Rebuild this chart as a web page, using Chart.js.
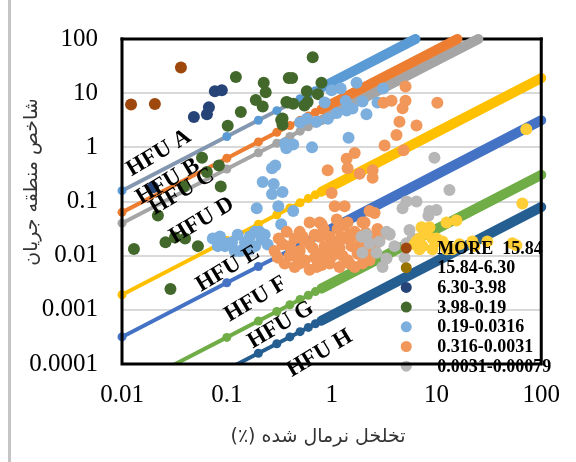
<!DOCTYPE html>
<html>
<head>
<meta charset="utf-8">
<script src="https://cdn.jsdelivr.net/npm/chart.js@4.4.1/dist/chart.umd.min.js"></script>
<style>
  html, body { margin:0; padding:0; background:#fff; }
  #wrap { position:relative; width:576px; height:462px; }
  #wrap .rule { position:absolute; left:8px; top:0; width:3px; height:462px; background:#c4c4c4; }
</style>
</head>
<body>
<div id="wrap">
  <div class="rule"></div>
  <canvas id="chart"></canvas>
</div>
<script>
// ── ejes ────────────────────────────────────────────────
const xTicks = [0.01, 0.1, 1, 10, 100];
const xTickText = ['0.01', '0.1', '1', '10', '100'];
const yTicks = [0.0001, 0.001, 0.01, 0.1, 1, 10, 100];
const yTickText = ['0.0001', '0.001', '0.01', '0.1', '1', '10', '100'];
const xTitle = 'تخلخل نرمال شده (٪)';
const yTitle = 'شاخص منطقه جریان';

// ── líneas límite de las unidades de flujo (y = fzi · x) ─
const boundFzi   = [15.84, 6.30, 3.98, 0.19, 0.0316, 0.0031, 0.00079];
const boundColor = ['#5B9BD5', '#ED7D31', '#A5A5A5', '#FFC000', '#4472C4', '#70AD47', '#255E91'];
const boundThin  = ['#8497B0', '#ED7D31', '#A5A5A5', '#FFC000', '#4472C4', '#70AD47', '#255E91'];
const boundX     = [0.01, 0.1, 0.2, 0.3, 0.4, 0.5, 0.6, 0.7, 0.8, 0.9, 1, 10, 100];

const hfuNames   = ['HFU A', 'HFU B', 'HFU C', 'HFU D', 'HFU E', 'HFU F', 'HFU G', 'HFU H'];
const hfuLabelAt = [[0.0225, 0.785], [0.0274, 0.233], [0.0373, 0.15], [0.0578, 0.0446],
                    [0.102, 0.00568], [0.189, 0.00156], [0.327, 0.000524], [0.769, 0.000156]];

// ── muestras por rango de FZI ───────────────────────────
const seriesMore = [[0.0122, 6.2], [0.0206, 6.3], [0.0365, 29.8]];
const series1584 = [];
const series630  = [[0.0485, 3.64], [0.0646, 4.1], [0.0675, 5.5], [0.0769, 10.8], [0.0896, 11.3], [0.0197, 0.183]];
const series398  = [[0.122, 19.9], [0.225, 15.6], [0.235, 10.4], [0.189, 7.5], [0.22, 5.7], [0.136, 4.5],
  [0.102, 2.5], [0.34, 3.4], [0.37, 6.9], [0.39, 19.1], [0.66, 46], [0.42, 19], [0.80, 15.6], [0.58, 10.8],
  [0.74, 9.6], [0.38, 6.7], [0.43, 6.4], [0.55, 5.9], [0.59, 6.9], [0.33, 3.2], [0.34, 2.6], [0.058, 0.64],
  [0.084, 0.46], [0.0645, 0.35], [0.0875, 0.19], [0.039, 0.19], [0.022, 0.055], [0.013, 0.0133],
  [0.026, 0.0176], [0.032, 0.0216], [0.040, 0.0207], [0.053, 0.015], [0.029, 0.00243]];
const series019  = [[1.73, 15.6], [1.22, 12.2], [1.0, 11.3], [3.1, 12.2], [0.86, 6.7], [1.36, 7.2], [1.97, 7.0],
  [2.15, 4.1], [2.74, 6.7], [1.45, 1.5], [0.65, 1.0], [0.36, 1.17], [0.43, 1.13], [0.50, 2.86], [0.58, 3.36],
  [0.72, 2.98], [0.92, 3.36], [1.12, 4.3], [1.39, 4.8], [1.58, 5.2], [0.37, 0.96], [0.29, 0.46], [0.28, 0.21],
  [0.34, 0.15], [0.27, 0.138], [0.31, 0.082], [0.193, 0.075], [0.43, 0.067], [0.33, 0.038], [0.22, 0.23],
  [0.27, 0.41], [0.206, 0.0275], [0.086, 0.0225], [0.0735, 0.0207], [0.096, 0.015], [0.112, 0.0176],
  [0.127, 0.0243], [0.149, 0.0176], [0.166, 0.0225], [0.186, 0.015], [0.215, 0.02], [0.149, 0.0131],
  [0.245, 0.016], [0.186, 0.0275], [0.133, 0.0122], [0.102, 0.0167], [0.082, 0.015], [0.119, 0.0122],
  [0.166, 0.0132], [0.23, 0.0243]];
const series0316 = [[5.07, 13.3], [3.73, 7.24], [3.13, 6.68], [5.07, 7.24], [4.75, 5.24], [10.2, 6.68],
  [4.44, 2.98], [6.45, 2.53], [4.16, 1.69], [3.2, 1.08], [4.85, 0.886], [1.66, 0.785], [1.39, 0.615],
  [1.42, 0.411], [1.85, 0.325], [2.46, 0.379], [2.46, 0.275], [0.917, 0.379], [1.0, 0.144], [1.07, 0.0817],
  [1.33, 0.0817], [2.3, 0.0668], [2.57, 0.0615], [0.617, 0.0411], [0.804, 0.0379], [1.12, 0.0464],
  [1.42, 0.0411], [1.97, 0.0411], [0.286, 0.0122], [0.341, 0.0162], [0.398, 0.01], [0.444, 0.0207],
  [0.496, 0.0122], [0.553, 0.0082], [0.617, 0.0162], [0.689, 0.0243], [0.736, 0.0108], [0.804, 0.0067],
  [0.858, 0.015], [0.957, 0.0224], [1.02, 0.01], [1.14, 0.031], [1.19, 0.0138], [1.33, 0.0207], [1.42, 0.0082],
  [1.55, 0.015], [1.66, 0.0275], [1.77, 0.0108], [1.93, 0.0183], [2.06, 0.0411], [2.2, 0.0122], [2.4, 0.0224],
  [2.57, 0.015], [2.74, 0.031], [0.357, 0.0072], [0.444, 0.0062], [0.617, 0.0055], [0.496, 0.0275],
  [0.769, 0.0411], [1.19, 0.0062], [1.66, 0.0062], [0.957, 0.0072], [0.373, 0.0275], [1.33, 0.0364],
  [1.97, 0.0072], [2.3, 0.0082], [0.313, 0.0207], [0.553, 0.0183], [0.689, 0.0092], [0.917, 0.0122],
  [1.27, 0.01], [1.07, 0.0183], [0.398, 0.015], [1.55, 0.0224], [0.769, 0.0224], [0.496, 0.0072],
  [0.306, 0.0092], [0.416, 0.0127], [0.53, 0.0224], [0.66, 0.0138], [0.877, 0.0092], [1.09, 0.0127],
  [1.48, 0.0243], [1.85, 0.015], [2.11, 0.0264], [2.86, 0.0207], [0.72, 0.0062], [1.48, 0.0072],
  [0.474, 0.0092], [1.24, 0.0224], [0.84, 0.031]];
const series0031 = [[9.57, 0.641], [13.3, 0.163], [5.18, 0.1], [6.45, 0.1], [4.75, 0.0754], [8.58, 0.0668],
  [10, 0.0695], [8.39, 0.0546], [5.53, 0.0297], [3.57, 0.0253], [5.18, 0.0169], [5.91, 0.0207], [1.93, 0.0224],
  [2.3, 0.0169], [2.86, 0.0183], [3.57, 0.0243], [1.97, 0.0113], [2.68, 0.0113], [3.34, 0.0089], [3.06, 0.0062],
  [4.96, 0.0092], [3.98, 0.015], [2.15, 0.0243], [3.34, 0.0275]];
const seriesLow  = [[72, 2.15], [66, 0.0923], [12.5, 0.0411], [15.5, 0.0446], [7.69, 0.031], [7.2, 0.0336],
  [8.03, 0.0253], [9.16, 0.0207], [6.89, 0.0207], [6.17, 0.0162], [7.36, 0.015], [10.7, 0.0183], [11.9, 0.0162],
  [23, 0.015], [30.6, 0.0183], [53, 0.0169], [57.8, 0.0156], [14.2, 0.0132], [6.45, 0.0183], [10, 0.0207],
  [11.4, 0.0183], [6.89, 0.0132], [9.16, 0.0132], [12.5, 0.0132], [16.6, 0.0162], [22, 0.0183], [8.58, 0.0336]];

const pointSeries = [seriesMore, series1584, series630, series398, series019, series0316, series0031, seriesLow];
const pointColors = ['#9E480E', '#997300', '#264478', '#43682B', '#7CAFDD', '#F1975A', '#B7B7B7', '#FFCD35'];
const legendLabels = ['MORE  15.84', '15.84-6.30', '6.30-3.98', '3.98-0.19', '0.19-0.0316', '0.316-0.0031', '0.0031-0.00079'];

const Y_MAX = 100;
const SERIF = '"Liberation Serif", "Times New Roman", serif';

// ── datasets ────────────────────────────────────────────
function boundLine(k, i){
  const pts = boundX.filter(x => k * x <= Y_MAX).map(x => ({ x, y: k * x }));
  if(k * boundX[boundX.length - 1] > Y_MAX) pts.push({ x: Y_MAX / k, y: Y_MAX });
  const thick = c => c.p0.parsed.x >= 0.75;
  return {
    data: pts,
    showLine: true,
    borderWidth: 4,
    borderColor: boundThin[i],
    borderCapStyle: 'round',
    borderJoinStyle: 'round',
    pointRadius: 4.5,
    pointBorderWidth: 0,
    pointBackgroundColor: boundColor[i],
    segment: {
      borderWidth: c => thick(c) ? 10 : 4,
      borderColor: c => thick(c) ? boundColor[i] : boundThin[i],
    },
    clip: { left: 6, top: 8, right: 8, bottom: 0 },
    order: 40,
  };
}

const datasets = [
  ...pointSeries.map((s, i) => ({
    data: s.map(([x, y]) => ({ x, y })),
    pointRadius: 6,
    pointBorderWidth: 0,
    pointBackgroundColor: pointColors[i],
    order: 30 - i,
  })),
  ...boundFzi.map(boundLine),
];

// ── marco, leyenda, etiquetas HFU y títulos ─────────────
function strokeBox(ctx, a, sides){
  ctx.save();
  ctx.strokeStyle = '#000';
  ctx.lineWidth = 3;
  ctx.lineCap = 'square';
  ctx.beginPath();
  if(sides.includes('t')){ ctx.moveTo(a.left, a.top); ctx.lineTo(a.right, a.top); }
  if(sides.includes('l')){ ctx.moveTo(a.left, a.top); ctx.lineTo(a.left, a.bottom); }
  if(sides.includes('r')){ ctx.moveTo(a.right, a.top); ctx.lineTo(a.right, a.bottom); }
  if(sides.includes('b')){ ctx.moveTo(a.left, a.bottom); ctx.lineTo(a.right, a.bottom); }
  ctx.stroke();
  ctx.restore();
}

const decor = {
  id: 'decor',
  beforeDatasetsDraw(chart){
    strokeBox(chart.ctx, chart.chartArea, 't');
  },
  afterDatasetsDraw(chart){
    const { ctx, chartArea: a, scales: { x, y } } = chart;

    // leyenda dentro del área de trazado
    const mx = a.right - 135, tx = a.right - 104, y0 = a.bottom - 116, dy = 19.7;
    ctx.save();
    ctx.font = 'bold 18px ' + SERIF;
    ctx.textAlign = 'left';
    ctx.textBaseline = 'middle';
    legendLabels.forEach((t, i) => {
      ctx.fillStyle = pointColors[i];
      ctx.beginPath();
      ctx.arc(mx, y0 + i * dy, 5.5, 0, Math.PI * 2);
      ctx.fill();
      ctx.fillStyle = '#000';
      ctx.fillText(t, tx, y0 + i * dy + 1);
    });
    ctx.restore();

    strokeBox(ctx, a, 'lrb');

    // nombres de las unidades
    ctx.save();
    ctx.font = 'bold 23px ' + SERIF;
    ctx.fillStyle = '#000';
    ctx.textAlign = 'center';
    ctx.textBaseline = 'middle';
    hfuNames.forEach((t, i) => {
      const [vx, vy] = hfuLabelAt[i];
      ctx.save();
      ctx.translate(x.getPixelForValue(vx), y.getPixelForValue(vy));
      ctx.rotate(-31 * Math.PI / 180);
      ctx.fillText(t, 0, 0);
      ctx.restore();
    });
    ctx.restore();
  },
  afterDraw(chart){
    const { ctx } = chart;
    ctx.save();
    ctx.font = '19px "DejaVu Sans"';
    ctx.fillStyle = '#333';
    ctx.direction = 'rtl';
    ctx.textAlign = 'center';
    ctx.textBaseline = 'middle';
    ctx.fillText(xTitle, 318, 437);
    ctx.translate(32, 182);
    ctx.rotate(-Math.PI / 2);
    ctx.fillText(yTitle, 0, 0);
    ctx.restore();
  }
};

// ── gráfico ─────────────────────────────────────────────
new Chart(document.getElementById('chart'), {
  type: 'scatter',
  data: { datasets },
  options: {
    responsive: true,
    maintainAspectRatio: false,
    animation: false,
    layout: { padding: { left: 0, right: 33, top: 22, bottom: 0 } },
    plugins: { legend: { display: false }, tooltip: { enabled: false } },
    scales: {
      x: {
        type: 'logarithmic',
        min: 0.01, max: 100,
        afterBuildTicks: s => { s.ticks = xTicks.map(v => ({ value: v })); },
        afterFit: s => { s.height = 98; },
        grid: { display: false, drawTicks: false },
        border: { display: false },
        ticks: {
          padding: 16,
          color: '#000',
          font: { family: SERIF, size: 25 },
          maxRotation: 0,
          callback: (v, i) => xTickText[i],
        },
      },
      y: {
        type: 'logarithmic',
        min: 0.0001, max: 100,
        afterBuildTicks: s => { s.ticks = yTicks.map(v => ({ value: v })); },
        afterFit: s => { s.width = 122; },
        grid: { color: '#d9d9d9', lineWidth: 2, drawTicks: false },
        border: { display: false },
        ticks: {
          padding: 24,
          color: '#000',
          font: { family: SERIF, size: 25 },
          callback: (v, i) => yTickText[i],
        },
      },
    },
  },
  plugins: [decor],
});
</script>
</body>
</html>
